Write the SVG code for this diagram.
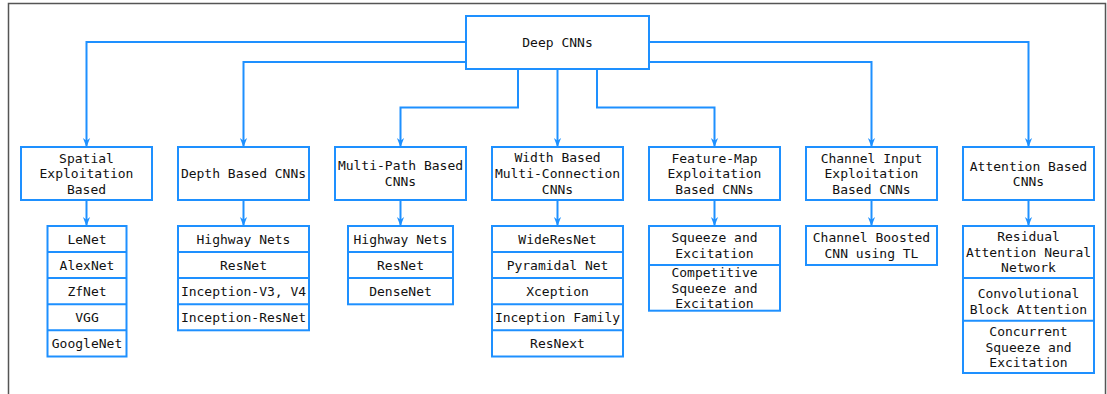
<svg xmlns="http://www.w3.org/2000/svg" width="1107" height="394" viewBox="0 0 1107 394">
  <style>
    .box { fill: #ffffff; stroke: #1e90ff; stroke-width: 2; }
    .sep { stroke: #1e90ff; stroke-width: 2; fill: none; }
    .edge { fill: none; stroke: #1e90ff; stroke-width: 2; marker-end: url(#arrow); }
    text { font-family: "DejaVu Sans Mono", "Liberation Mono", monospace; font-size: 13px; fill: #111111; text-anchor: middle; dominant-baseline: central; }
  </style>
  <defs>
    <marker id="arrow" viewBox="0 0 10 10" refX="10" refY="5" markerWidth="9" markerHeight="9" markerUnits="userSpaceOnUse" orient="auto">
      <path d="M0,1 L10,5 L0,9 L3,5 z" fill="#1e90ff"/>
    </marker>
  </defs>

  <rect width="1107" height="394" fill="#ffffff"/>
  <!-- frame -->
  <path d="M8.5,394 V3.5 H1105.5 V394" fill="none" stroke="#555555" stroke-width="1.5"/>

  <!-- connectors -->
  <g id="connectors">
    <path class="edge" d="M466,42 H86.5 V147"/>
    <path class="edge" d="M466,62 H243.5 V147"/>
    <path class="edge" d="M518,69 V107.5 H400.5 V147"/>
    <path class="edge" d="M557.5,69 V147"/>
    <path class="edge" d="M597,69 V107.5 H714.5 V147"/>
    <path class="edge" d="M649,62 H871.5 V147"/>
    <path class="edge" d="M649,42 H1028.5 V147"/>
    <path class="edge" d="M86.5,200 V226"/>
    <path class="edge" d="M243.5,200 V226"/>
    <path class="edge" d="M400.5,200 V226"/>
    <path class="edge" d="M557.5,200 V226"/>
    <path class="edge" d="M714.5,200 V226"/>
    <path class="edge" d="M871.5,200 V226"/>
    <path class="edge" d="M1028.5,200 V226"/>
  </g>

  <!-- root -->
  <g id="deep-cnns">
    <rect class="box" x="466" y="16" width="183" height="53"/>
    <text x="557.5" y="42.5">Deep CNNs</text>
  </g>

  <!-- categories -->
  <g id="spatial">
    <rect class="box" x="21" y="147" width="131" height="53"/>
    <text x="86.5" y="158">Spatial</text>
    <text x="86.5" y="173.5">Exploitation</text>
    <text x="86.5" y="189">Based</text>
  </g>
  <g id="depth">
    <rect class="box" x="178" y="147" width="131" height="53"/>
    <text x="243.5" y="173.5">Depth Based CNNs</text>
  </g>
  <g id="multi-path">
    <rect class="box" x="335" y="147" width="131" height="53"/>
    <text x="400.5" y="165.5">Multi-Path Based</text>
    <text x="400.5" y="181.5">CNNs</text>
  </g>
  <g id="width">
    <rect class="box" x="492" y="147" width="131" height="53"/>
    <text x="557.5" y="157.5">Width Based</text>
    <text x="557.5" y="173.5">Multi-Connection</text>
    <text x="557.5" y="189.5">CNNs</text>
  </g>
  <g id="feature-map">
    <rect class="box" x="649" y="147" width="131" height="53"/>
    <text x="714.5" y="158">Feature-Map</text>
    <text x="714.5" y="173.5">Exploitation</text>
    <text x="714.5" y="189">Based CNNs</text>
  </g>
  <g id="channel-input">
    <rect class="box" x="806" y="147" width="131" height="53"/>
    <text x="871.5" y="158">Channel Input</text>
    <text x="871.5" y="173.5">Exploitation</text>
    <text x="871.5" y="189">Based CNNs</text>
  </g>
  <g id="attention">
    <rect class="box" x="963" y="147" width="131" height="53"/>
    <text x="1028.5" y="166">Attention Based</text>
    <text x="1028.5" y="181">CNNs</text>
  </g>

  <!-- model lists -->
  <g id="spatial-list">
    <rect class="box" x="47.5" y="226" width="79" height="130.5"/>
    <path class="sep" d="M47.5,252 H126.5 M47.5,278 H126.5 M47.5,304.3 H126.5 M47.5,330.3 H126.5"/>
    <text x="87" y="239">LeNet</text>
    <text x="87" y="265">AlexNet</text>
    <text x="87" y="291">ZfNet</text>
    <text x="87" y="317">VGG</text>
    <text x="87" y="343.5">GoogleNet</text>
  </g>
  <g id="depth-list">
    <rect class="box" x="178" y="226" width="131" height="104.3"/>
    <path class="sep" d="M178,252 H309 M178,278 H309 M178,304.3 H309"/>
    <text x="243.5" y="239">Highway Nets</text>
    <text x="243.5" y="265">ResNet</text>
    <text x="243.5" y="291">Inception-V3, V4</text>
    <text x="243.5" y="317">Inception-ResNet</text>
  </g>
  <g id="multi-path-list">
    <rect class="box" x="348" y="226" width="105" height="78.3"/>
    <path class="sep" d="M348,252 H453 M348,278 H453"/>
    <text x="400.5" y="239">Highway Nets</text>
    <text x="400.5" y="265">ResNet</text>
    <text x="400.5" y="291">DenseNet</text>
  </g>
  <g id="width-list">
    <rect class="box" x="492" y="226" width="131" height="130.5"/>
    <path class="sep" d="M492,252 H623 M492,278 H623 M492,304.3 H623 M492,330.3 H623"/>
    <text x="557.5" y="239">WideResNet</text>
    <text x="557.5" y="265">Pyramidal Net</text>
    <text x="557.5" y="291">Xception</text>
    <text x="557.5" y="317">Inception Family</text>
    <text x="557.5" y="343.5">ResNext</text>
  </g>
  <g id="feature-map-list">
    <rect class="box" x="649" y="226" width="131" height="84.7"/>
    <path class="sep" d="M649,265 H780"/>
    <text x="714.5" y="237.5">Squeeze and</text>
    <text x="714.5" y="253">Excitation</text>
    <text x="714.5" y="272.5">Competitive</text>
    <text x="714.5" y="288">Squeeze and</text>
    <text x="714.5" y="303.5">Excitation</text>
  </g>
  <g id="channel-input-list">
    <rect class="box" x="806" y="226" width="131" height="39"/>
    <text x="871.5" y="237.5">Channel Boosted</text>
    <text x="871.5" y="253.5">CNN using TL</text>
  </g>
  <g id="attention-list">
    <rect class="box" x="963" y="226" width="131" height="147"/>
    <path class="sep" d="M963,278 H1094 M963,320.7 H1094"/>
    <text x="1028.5" y="236.5">Residual</text>
    <text x="1028.5" y="252">Attention Neural</text>
    <text x="1028.5" y="267.5">Network</text>
    <text x="1028.5" y="293.5">Convolutional</text>
    <text x="1028.5" y="309">Block Attention</text>
    <text x="1028.5" y="331.5">Concurrent</text>
    <text x="1028.5" y="347">Squeeze and</text>
    <text x="1028.5" y="362.5">Excitation</text>
  </g>
</svg>
